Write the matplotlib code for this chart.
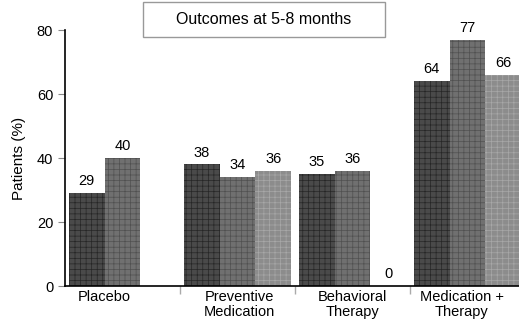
import matplotlib.pyplot as plt
import matplotlib.patches as mpatches
import numpy as np

plt.rcParams['font.family'] = ['Liberation Sans', 'DejaVu Sans']

groups = ["Placebo", "Preventive\nMedication", "Behavioral\nTherapy", "Medication +\nTherapy"]
label_pos = [0.34, 1.52, 2.5, 3.45]
series1 = [29, 38, 35, 64]
series2 = [40, 34, 36, 77]
series3 = [None, 36, 0, 66]

faces = ["#4a4a4a", "#707070", "#8c8c8c"]
hatch_cols = ["#262626", "#505050", "#a8a8a8"]

fig = plt.figure(figsize=(5.19, 3.24), dpi=100)
ax = fig.add_axes([65 / 519, 38 / 324, 460 / 519, 256 / 324])

w = 0.31
off = 0.035
x = np.arange(len(groups))
plt.rcParams['hatch.linewidth'] = 0.5
for k, vals in enumerate([series1, series2, series3]):
    for i, v in enumerate(vals):
        if v is None:
            continue
        xpos = x[i] + off + k * w
        ax.bar(xpos, v, width=w, align='edge', color=faces[k],
               edgecolor=hatch_cols[k], linewidth=0, hatch='+++')
        ax.text(xpos + w / 2, v + 1.5, str(v), ha='center', va='bottom', fontsize=10.5)

ax.set_xlim(0, 4)
ax.set_ylim(0, 80)
ax.set_yticks([0, 20, 40, 60, 80])
ax.tick_params(axis='y', labelsize=10.5, length=5, width=0.8, color='#888888')
ax.set_ylabel("Patients (%)", fontsize=11, labelpad=8)
ax.set_xticks(label_pos)
ax.set_xticklabels(groups, fontsize=10.5, linespacing=1.1)
ax.tick_params(axis='x', length=0, pad=3)
ax.set_xticks([1, 2, 3], minor=True)
ax.tick_params(axis='x', which='minor', length=6, color='#aaaaaa', width=1)
ax.spines['top'].set_visible(False)
ax.spines['right'].set_visible(False)
ax.spines['left'].set_linewidth(1.2)
ax.spines['bottom'].set_linewidth(1.2)

box = mpatches.Rectangle((143 / 519, 1 - 37 / 324), 242 / 519, 35 / 324, transform=fig.transFigure,
                         facecolor='white', edgecolor='#999999', linewidth=1)
fig.patches.append(box)
fig.text(264 / 519, 1 - 19.5 / 324, "Outcomes at 5-8 months", ha='center', va='center', fontsize=11.5)

fig.savefig("out.png", dpi=100)
